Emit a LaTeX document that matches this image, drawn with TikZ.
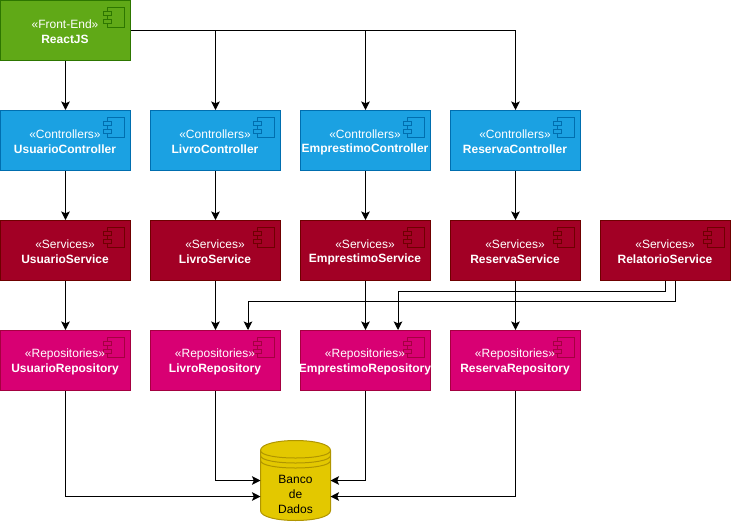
\documentclass[tikz,border=0pt]{standalone}
\usepackage{fontspec}
\setmainfont{Liberation Sans}
\usetikzlibrary{arrows.meta}
\newcommand{\comp}[7]{% name, x, y, fill, stroke, stereotype, title
  \node[box, fill=#4, draw=#5] (#1) at (#2+65,#3+30) {};
  \draw[draw=#5, line width=0.75pt] (#2+107,#3+7) rectangle (#2+123.5,#3+27);
  \draw[draw=#5, fill=#4, line width=0.75pt] (#2+103,#3+11) rectangle (#2+111,#3+15);
  \draw[draw=#5, fill=#4, line width=0.75pt] (#2+103,#3+19) rectangle (#2+111,#3+23);
  \node[stereo] (#1s) at (#2+64.5,#3+24) {«#6»};
  \node[title] (#1t) at (#2+64.5,#3+39) {#7};
}
\definecolor{gfill}{HTML}{60A917}\definecolor{gline}{HTML}{2D7600}
\definecolor{bfill}{HTML}{1BA1E2}\definecolor{bline}{HTML}{006EAF}
\definecolor{rfill}{HTML}{A20025}\definecolor{rline}{HTML}{6F0000}
\definecolor{pfill}{HTML}{D80073}\definecolor{pline}{HTML}{A50040}
\definecolor{yfill}{HTML}{E3C800}\definecolor{yline}{HTML}{B09500}
\tikzset{
  box/.style={rectangle, minimum width=97.5pt, minimum height=45pt, inner sep=0pt, line width=0.75pt},
  stereo/.style={text=white, font=\fontsize{9}{9}\selectfont, inner sep=0pt},
  title/.style={text=white, font=\fontsize{9}{9}\selectfont\bfseries, inner sep=0pt},
  conn/.style={draw=black, line width=0.75pt, -{Stealth[length=6.4pt,width=6.4pt,inset=1.4pt]}},
  dbtext/.style={text=black, font=\fontsize{9}{11.25}\selectfont, align=center, inner sep=0pt},
  dbline/.style={draw=yline, line width=0.75pt},
}
\begin{document}
\begin{tikzpicture}[x=0.75pt,y=-0.75pt]
\useasboundingbox (0,0) rectangle (731,521);
\begin{scope}[shift={(0.5,0.5)}]
\comp{fe}{0}{0}{gfill}{gline}{Front-End}{ReactJS}
\comp{uc}{0}{110}{bfill}{bline}{Controllers}{UsuarioController}
\comp{lc}{150}{110}{bfill}{bline}{Controllers}{LivroController}
\comp{ec}{300}{110}{bfill}{bline}{Controllers}{EmprestimoController}
\comp{rc}{450}{110}{bfill}{bline}{Controllers}{ReservaController}
\comp{us}{0}{220}{rfill}{rline}{Services}{UsuarioService}
\comp{ls}{150}{220}{rfill}{rline}{Services}{LivroService}
\comp{es}{300}{220}{rfill}{rline}{Services}{EmprestimoService}
\comp{rs}{450}{220}{rfill}{rline}{Services}{ReservaService}
\comp{ts}{600}{220}{rfill}{rline}{Services}{RelatorioService}
\comp{ur}{0}{330}{pfill}{pline}{Repositories}{UsuarioRepository}
\comp{lr}{150}{330}{pfill}{pline}{Repositories}{LivroRepository}
\comp{er}{300}{330}{pfill}{pline}{Repositories}{EmprestimoRepository}
\comp{rr}{450}{330}{pfill}{pline}{Repositories}{ReservaRepository}
% database
\draw[dbline, fill=yfill]
  (260,450) .. controls (260,436.67) and (330,436.67) .. (330,450)
  -- (330,510) .. controls (330,523.33) and (260,523.33) .. (260,510) -- cycle;
\draw[dbline] (260,450) .. controls (260,460) and (330,460) .. (330,450);
\draw[dbline] (260,455) .. controls (260,465) and (330,465) .. (330,455);
\draw[dbline] (260,460) .. controls (260,470) and (330,470) .. (330,460);
\node[dbtext] (db) at (295,494) {Banco\\de\\Dados};
\coordinate (dbl1) at (260,480);
\coordinate (dbl2) at (260,496);
\coordinate (dbr1) at (330,480);
\coordinate (dbr2) at (330,496);
% connectors
\draw[conn] (fe) -- (uc);
\draw[conn] (fe.east) -| (lc.north);
\draw[conn] (fe.east) -| (ec.north);
\draw[conn] (fe.east) -| (rc.north);
\draw[conn] (uc) -- (us);
\draw[conn] (lc) -- (ls);
\draw[conn] (ec) -- (es);
\draw[conn] (rc) -- (rs);
\draw[conn] (us) -- (ur);
\draw[conn] (ls) -- (lr);
\draw[conn] (es) -- (er);
\draw[conn] (rs) -- (rr);
\coordinate (tsb) at ([xshift=7.5pt]ts.south);
\coordinate (era) at ([xshift=24.375pt]er.north);
\coordinate (lra) at ([xshift=24.375pt]lr.north);
\draw[conn] (ts.south) -- ++(0,10) -| (era);
\draw[conn] (tsb) -- ++(0,20) -| (lra);
\draw[conn] (ur.south) |- (dbl2);
\draw[conn] (lr.south) |- (dbl1);
\draw[conn] (er.south) |- (dbr1);
\draw[conn] (rr.south) |- (dbr2);
\end{scope}
\end{tikzpicture}
\end{document}
